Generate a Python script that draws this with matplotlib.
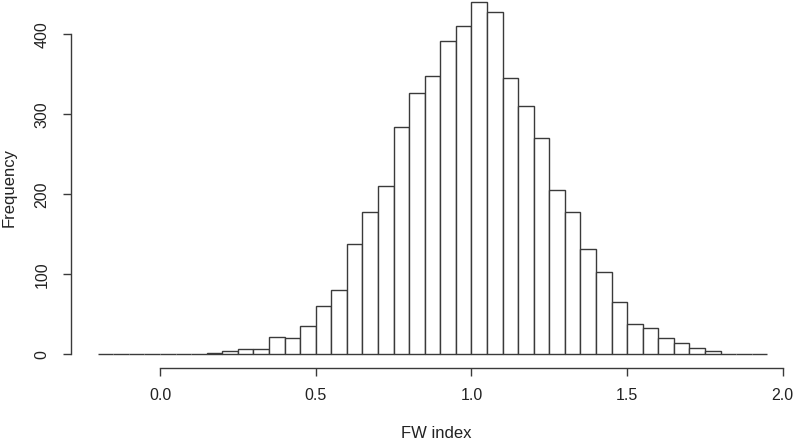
import numpy as np
import matplotlib
matplotlib.use("Agg")
import matplotlib.pyplot as plt

plt.rcParams['font.family'] = ['Liberation Sans', 'DejaVu Sans']

# histogram bins (left edges, width 0.05) and counts
bin_left = [-0.20, -0.15, -0.10, -0.05, 0.00, 0.05, 0.10, 0.15, 0.20, 0.25,
            0.30, 0.35, 0.40, 0.45, 0.50, 0.55, 0.60, 0.65, 0.70, 0.75,
            0.80, 0.85, 0.90, 0.95, 1.00, 1.05, 1.10, 1.15, 1.20, 1.25,
            1.30, 1.35, 1.40, 1.45, 1.50, 1.55, 1.60, 1.65, 1.70, 1.75,
            1.80, 1.85, 1.90]
counts = [0, 0, 1, 0, 0, 1, 0, 2, 4, 7,
          7, 22, 21, 35, 61, 80, 138, 178, 210, 284,
          327, 348, 392, 410, 441, 428, 345, 310, 271, 206,
          178, 132, 103, 65, 38, 33, 20, 14, 8, 4,
          1, 1, 1]
bin_width = 0.05

x_ticks = [0.0, 0.5, 1.0, 1.5, 2.0]
y_ticks = [0, 100, 200, 300, 400]

fig = plt.figure(figsize=(7.94, 4.4), dpi=100)
ax = fig.add_axes([0.0894, 0.1627, 0.9106, 0.8373])

ax.bar(bin_left, counts, width=bin_width, align='edge',
       facecolor='white', edgecolor='#3a3a3a', linewidth=1.0)

# R style padding (4% each side)
ax.set_xlim(-0.286, 2.036)
ax.set_ylim(-17.6, 443)

for s in ['top', 'right']:
    ax.spines[s].set_visible(False)
for s in ['left', 'bottom']:
    ax.spines[s].set_color('#3a3a3a')
    ax.spines[s].set_linewidth(1.0)
ax.spines['left'].set_bounds(0, 400)
ax.spines['bottom'].set_bounds(0, 2.0)

ax.set_xticks(x_ticks)
ax.set_xticklabels(['0.0', '0.5', '1.0', '1.5', '2.0'])
ax.set_yticks(y_ticks)
ax.set_yticklabels([str(v) for v in y_ticks], rotation=90, va='center')
ax.tick_params(axis='both', direction='out', length=5.8, width=1.0,
               color='#3a3a3a', labelsize=11.5, labelcolor='#222222')
ax.tick_params(axis='x', pad=8)
ax.tick_params(axis='y', pad=9.5)

ax.set_xlabel('FW index', fontsize=12, color='#222222', va='center')
ax.xaxis.set_label_coords(0.505, -0.177)
ax.set_ylabel('Frequency', fontsize=12, color='#222222', va='center')
ax.yaxis.set_label_coords(-0.0858, 0.49)

fig.savefig('out.png', dpi=100)
